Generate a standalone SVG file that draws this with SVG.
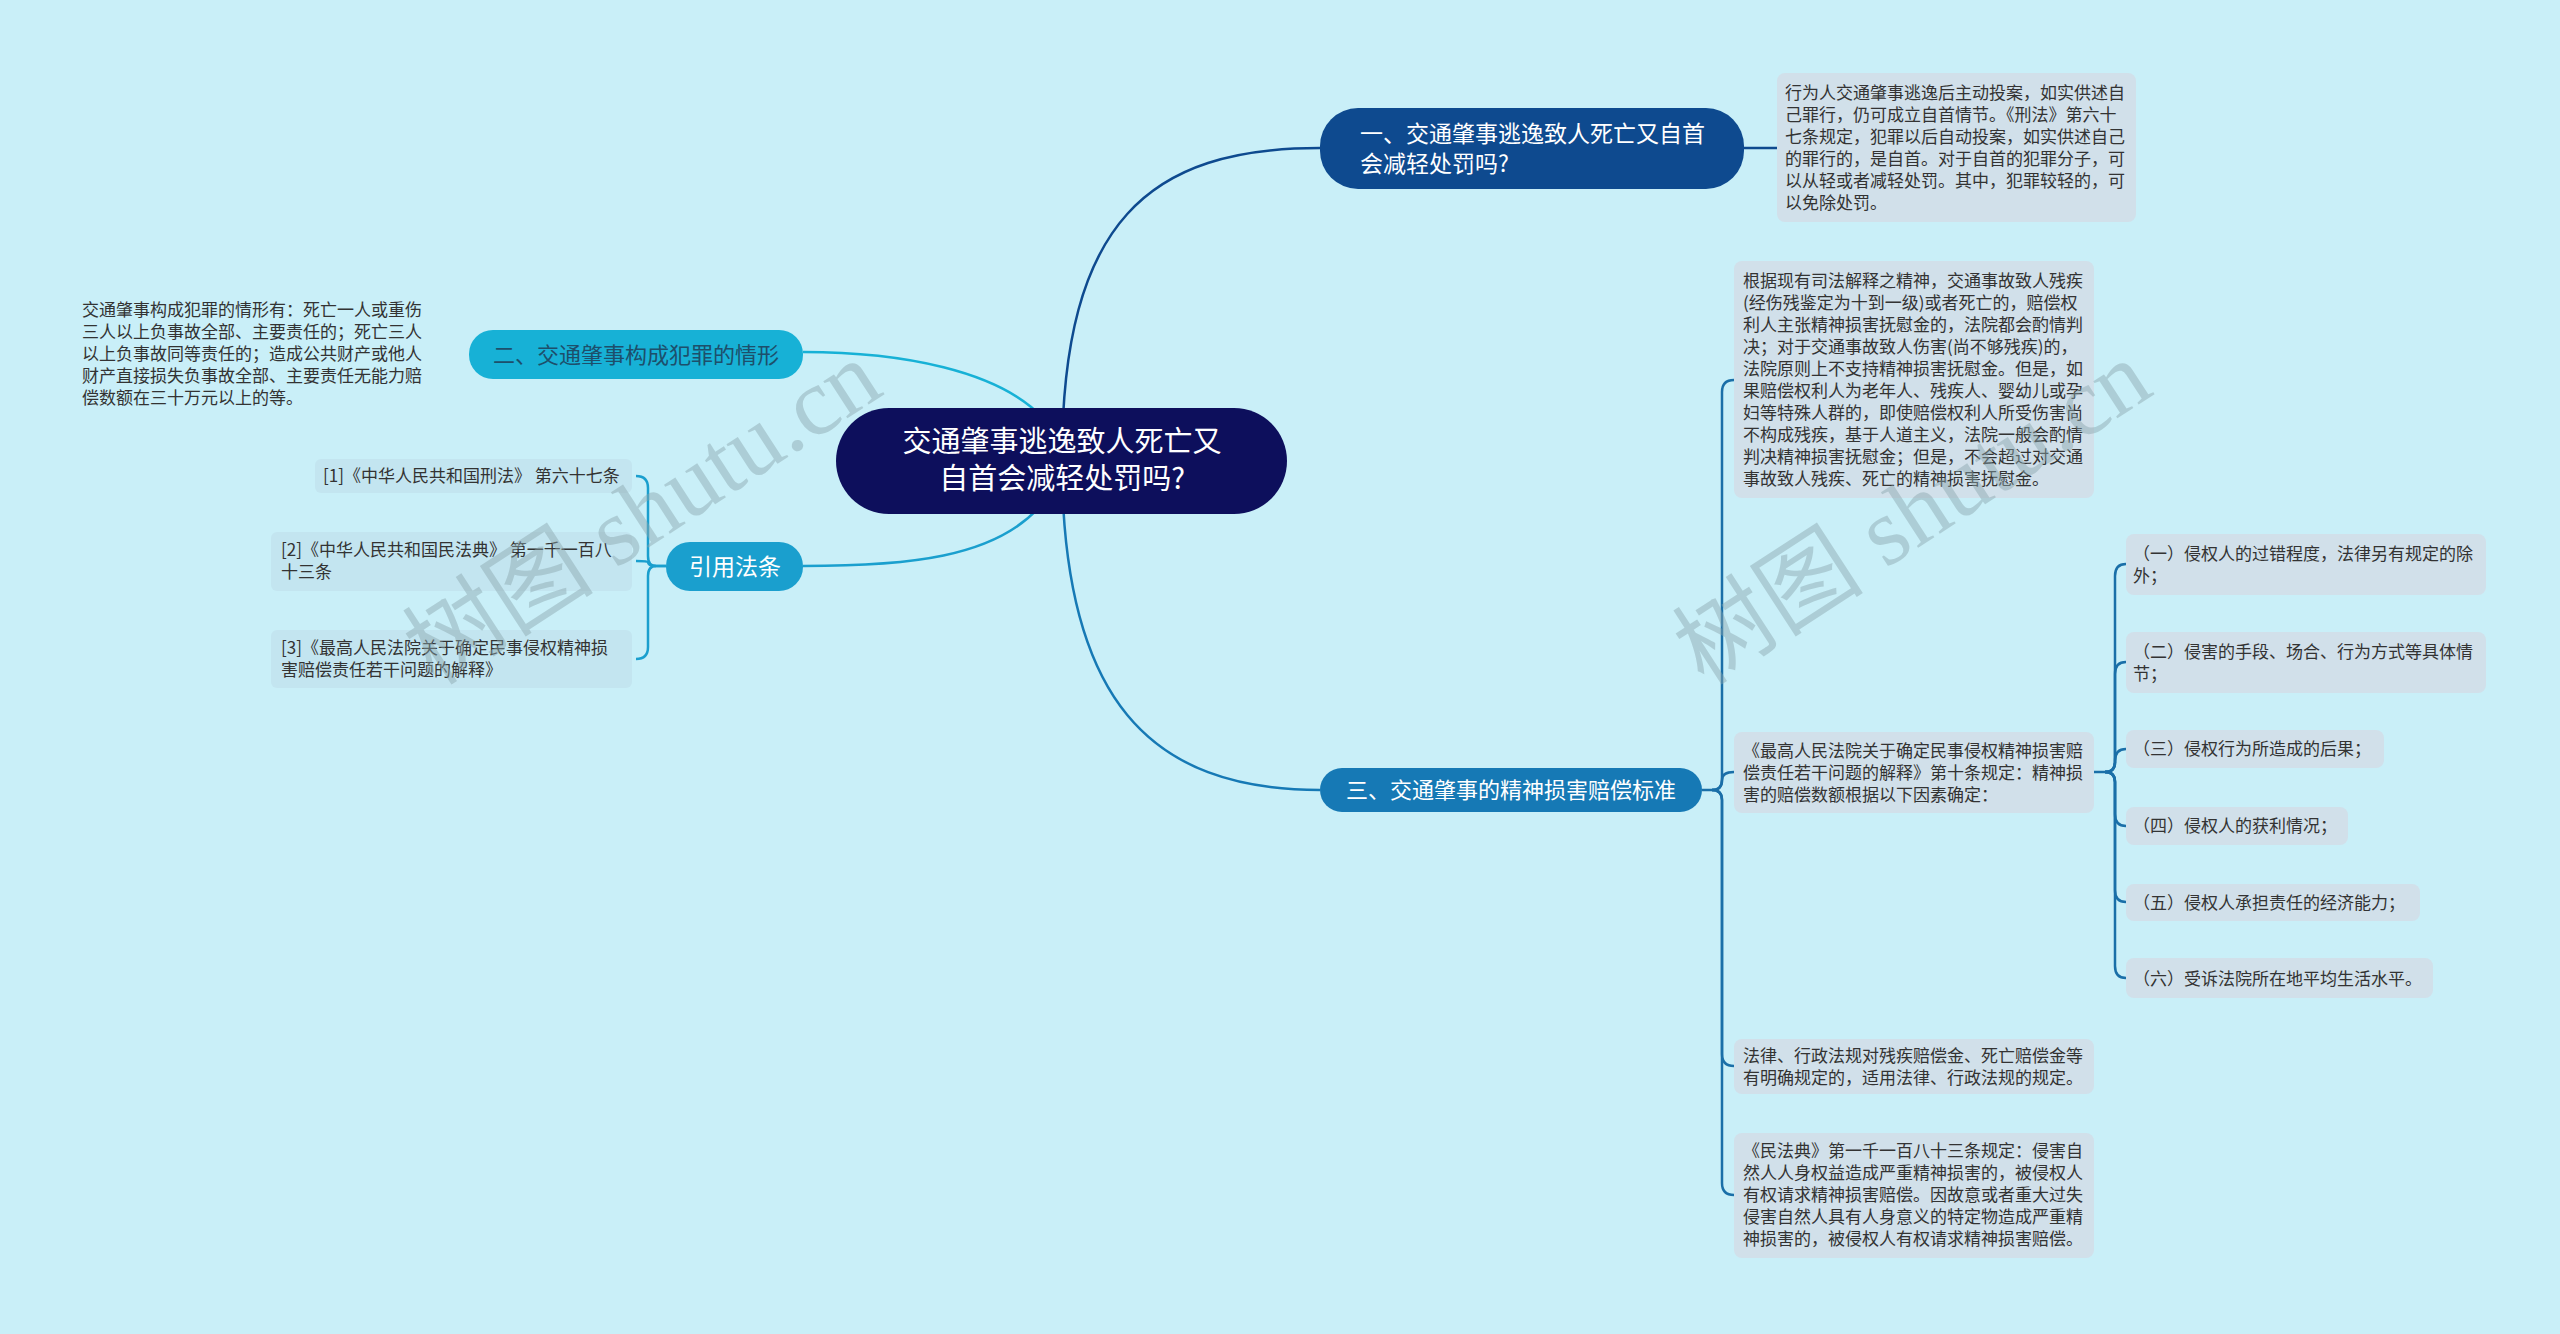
<svg xmlns="http://www.w3.org/2000/svg" width="2560" height="1334" viewBox="0 0 2560 1334">
<style>
text{font-family:"Noto Sans CJK SC","Noto Sans",sans-serif}
.leaf{font-size:17px;fill:#333}
.box{fill:#d1e0ea}
.box2{fill:#c3e5f0}
.w{fill:#fff}
.c{fill:none;stroke-width:2.5}
.wm{font-size:96px;fill:#8aa6ad;opacity:0.45;font-family:"Liberation Serif","Noto Sans CJK SC",serif}
</style>
<rect width="2560" height="1334" fill="#c9eff8"/>
<g id="connectors">
<path class="c" stroke="#0e4a8f" d="M1062 460 C1062 220 1150 148 1320 148"/>
<path class="c" stroke="#1679b5" d="M1062 460 C1062 700 1150 790 1320 790"/>
<path class="c" stroke="#17b1d6" d="M1045 420 C1000 370 900 352 803 352"/>
<path class="c" stroke="#1a9fce" d="M1045 500 C1000 560 900 566 803 566"/>
<path class="c" stroke="#0e4a8f" d="M1744 148 L1777 148"/>
<g stroke="#1a6fa8" class="c">
<path class="c" d="M1702 790 L1712 790 Q1722 790 1722 780 L1722 392 Q1722 380 1734 380"/>
<path class="c" d="M1712 790 Q1722 790 1722 780 Q1722 772 1734 772"/>
<path class="c" d="M1712 790 Q1722 790 1722 800 L1722 1054 Q1722 1066 1734 1066"/>
<path class="c" d="M1712 790 Q1722 790 1722 800 L1722 1183 Q1722 1195 1734 1195"/>
<path class="c" d="M2094 772 L2105 772 Q2115 772 2115 762 L2115 576 Q2115 564 2126 564"/>
<path class="c" d="M2105 772 Q2115 772 2115 762 L2115 674 Q2115 662 2126 662"/>
<path class="c" d="M2105 772 Q2115 772 2115 762 L2115 761 Q2115 749 2126 749"/>
<path class="c" d="M2105 772 Q2115 772 2115 782 L2115 814 Q2115 826 2126 826"/>
<path class="c" d="M2105 772 Q2115 772 2115 782 L2115 890 Q2115 902 2126 902"/>
<path class="c" d="M2105 772 Q2115 772 2115 782 L2115 966 Q2115 978 2126 978"/>
</g>
<g stroke="#1a9fce" class="c">
<path class="c" d="M666 566 L656 566 Q648 566 648 556 L648 488 Q648 476 636 476"/>
<path class="c" d="M666 566 L656 566 Q648 566 648 562 Q648 561 636 561"/>
<path class="c" d="M656 566 Q648 566 648 576 L648 647 Q648 659 636 659"/>
</g>
</g>
<g id="center">
<rect x="836" y="408" width="451" height="106" rx="53" fill="#0d0f5c"/>
<text x="1062" y="452" font-size="29" text-anchor="middle" class="w">交通肇事逃逸致人死亡又</text>
<text x="1062" y="489" font-size="29" text-anchor="middle" class="w">自首会减轻处罚吗?</text>
</g>
<g id="n1">
<rect x="1320" y="108" width="424" height="81" rx="38" fill="#0e4a8f"/>
<text x="1360" y="142" font-size="23" class="w">一、交通肇事逃逸致人死亡又自首</text>
<text x="1360" y="172" font-size="23" class="w">会减轻处罚吗?</text>
</g>
<g id="n1leaf">
<rect class="box" x="1777" y="73" width="359" height="149" rx="8"/>
<text class="leaf" x="1785" y="99">行为人交通肇事逃逸后主动投案，如实供述自</text>
<text class="leaf" x="1785" y="121">己罪行，仍可成立自首情节。《刑法》第六十</text>
<text class="leaf" x="1785" y="143">七条规定，犯罪以后自动投案，如实供述自己</text>
<text class="leaf" x="1785" y="165">的罪行的，是自首。对于自首的犯罪分子，可</text>
<text class="leaf" x="1785" y="187">以从轻或者减轻处罚。其中，犯罪较轻的，可</text>
<text class="leaf" x="1785" y="209">以免除处罚。</text>
</g>
<g id="n2">
<rect x="469" y="330" width="334" height="49" rx="24" fill="#17b1d6"/>
<text x="636" y="363" font-size="22" text-anchor="middle" fill="#1d4f6b">二、交通肇事构成犯罪的情形</text>
</g>
<g id="n2leaf">
<text class="leaf" x="82" y="316">交通肇事构成犯罪的情形有：死亡一人或重伤</text>
<text class="leaf" x="82" y="338">三人以上负事故全部、主要责任的；死亡三人</text>
<text class="leaf" x="82" y="360">以上负事故同等责任的；造成公共财产或他人</text>
<text class="leaf" x="82" y="382">财产直接损失负事故全部、主要责任无能力赔</text>
<text class="leaf" x="82" y="404">偿数额在三十万元以上的等。</text>
</g>
<g id="n4">
<rect x="666" y="542" width="137" height="49" rx="24" fill="#1a9fce"/>
<text x="735" y="575" font-size="23" text-anchor="middle" class="w">引用法条</text>
</g>
<g id="r1">
<rect class="box2" x="315" y="459" width="317" height="34" rx="6"/>
<text class="leaf" x="323" y="482" font-size="16">[1]《中华人民共和国刑法》 第六十七条</text>
</g>
<g id="r2">
<rect class="box2" x="271" y="532" width="361" height="59" rx="6"/>
<text class="leaf" x="281" y="556">[2]《中华人民共和国民法典》 第一千一百八</text>
<text class="leaf" x="281" y="578">十三条</text>
</g>
<g id="r3">
<rect class="box2" x="271" y="630" width="361" height="58" rx="6"/>
<text class="leaf" x="281" y="654">[3]《最高人民法院关于确定民事侵权精神损</text>
<text class="leaf" x="281" y="676">害赔偿责任若干问题的解释》</text>
</g>
<g id="n3">
<rect x="1320" y="768" width="382" height="44" rx="22" fill="#1679b5"/>
<text x="1511" y="798" font-size="22" text-anchor="middle" class="w">三、交通肇事的精神损害赔偿标准</text>
</g>
<g id="c1">
<rect class="box" x="1734" y="261" width="360" height="237" rx="8"/>
<text class="leaf" x="1743" y="287">根据现有司法解释之精神，交通事故致人残疾</text>
<text class="leaf" x="1743" y="309">(经伤残鉴定为十到一级)或者死亡的，赔偿权</text>
<text class="leaf" x="1743" y="331">利人主张精神损害抚慰金的，法院都会酌情判</text>
<text class="leaf" x="1743" y="353">决；对于交通事故致人伤害(尚不够残疾)的，</text>
<text class="leaf" x="1743" y="375">法院原则上不支持精神损害抚慰金。但是，如</text>
<text class="leaf" x="1743" y="397">果赔偿权利人为老年人、残疾人、婴幼儿或孕</text>
<text class="leaf" x="1743" y="419">妇等特殊人群的，即使赔偿权利人所受伤害尚</text>
<text class="leaf" x="1743" y="441">不构成残疾，基于人道主义，法院一般会酌情</text>
<text class="leaf" x="1743" y="463">判决精神损害抚慰金；但是，不会超过对交通</text>
<text class="leaf" x="1743" y="485">事故致人残疾、死亡的精神损害抚慰金。</text>
</g>
<g id="c2">
<rect class="box" x="1734" y="732" width="360" height="81" rx="8"/>
<text class="leaf" x="1743" y="757">《最高人民法院关于确定民事侵权精神损害赔</text>
<text class="leaf" x="1743" y="779">偿责任若干问题的解释》第十条规定：精神损</text>
<text class="leaf" x="1743" y="801">害的赔偿数额根据以下因素确定：</text>
</g>
<g id="c3">
<rect class="box" x="1734" y="1039" width="360" height="55" rx="8"/>
<text class="leaf" x="1743" y="1062">法律、行政法规对残疾赔偿金、死亡赔偿金等</text>
<text class="leaf" x="1743" y="1084">有明确规定的，适用法律、行政法规的规定。</text>
</g>
<g id="c4">
<rect class="box" x="1734" y="1133" width="360" height="125" rx="8"/>
<text class="leaf" x="1743" y="1157">《民法典》第一千一百八十三条规定：侵害自</text>
<text class="leaf" x="1743" y="1179">然人人身权益造成严重精神损害的，被侵权人</text>
<text class="leaf" x="1743" y="1201">有权请求精神损害赔偿。因故意或者重大过失</text>
<text class="leaf" x="1743" y="1223">侵害自然人具有人身意义的特定物造成严重精</text>
<text class="leaf" x="1743" y="1245">神损害的，被侵权人有权请求精神损害赔偿。</text>
</g>
<g id="g1">
<rect class="box" x="2126" y="534" width="360" height="61" rx="8"/>
<text class="leaf" x="2133" y="560">（一）侵权人的过错程度，法律另有规定的除</text>
<text class="leaf" x="2133" y="582">外；</text>
</g>
<g id="g2">
<rect class="box" x="2126" y="632" width="360" height="61" rx="8"/>
<text class="leaf" x="2133" y="658">（二）侵害的手段、场合、行为方式等具体情</text>
<text class="leaf" x="2133" y="680">节；</text>
</g>
<g id="g3">
<rect class="box" x="2126" y="730" width="258" height="38" rx="8"/>
<text class="leaf" x="2133" y="755">（三）侵权行为所造成的后果；</text>
</g>
<g id="g4">
<rect class="box" x="2126" y="807" width="222" height="38" rx="8"/>
<text class="leaf" x="2133" y="832">（四）侵权人的获利情况；</text>
</g>
<g id="g5">
<rect class="box" x="2126" y="884" width="294" height="37" rx="8"/>
<text class="leaf" x="2133" y="909">（五）侵权人承担责任的经济能力；</text>
</g>
<g id="g6">
<rect class="box" x="2126" y="958" width="307" height="40" rx="8"/>
<text class="leaf" x="2133" y="985">（六）受诉法院所在地平均生活水平。</text>
</g>
<text class="wm" transform="translate(660 540) rotate(-33)" text-anchor="middle">树图 shutu.cn</text>
<text class="wm" transform="translate(1930 540) rotate(-33)" text-anchor="middle">树图 shutu.cn</text>
</svg>
